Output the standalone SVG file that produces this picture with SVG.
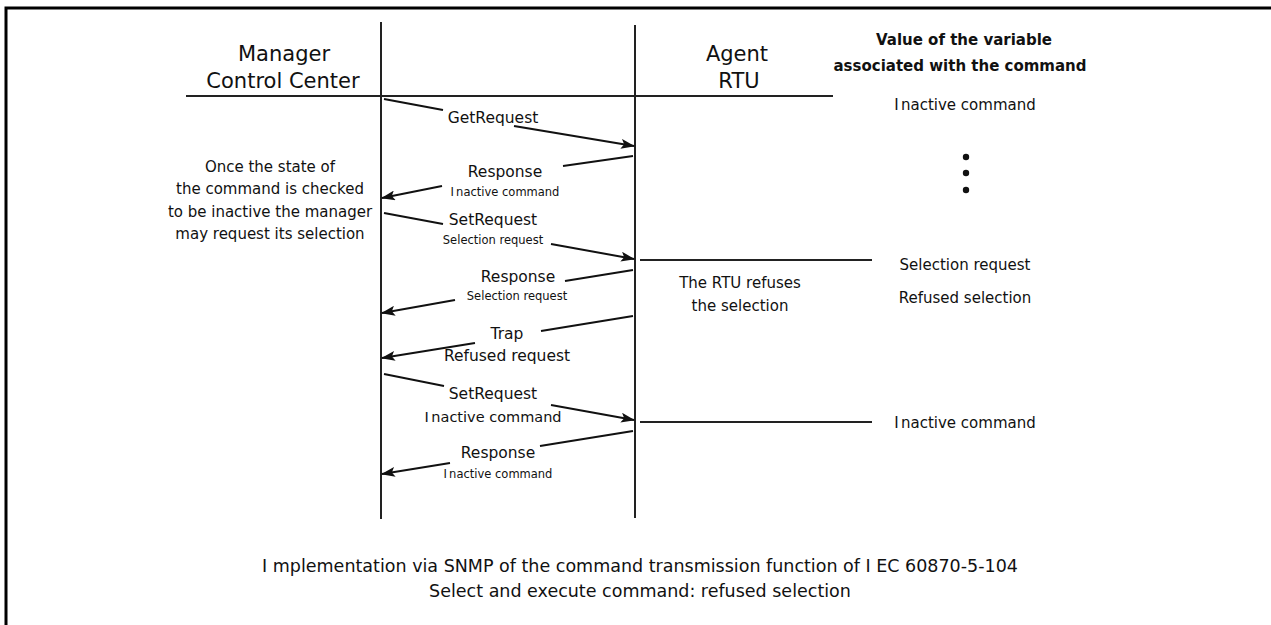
<svg xmlns="http://www.w3.org/2000/svg" width="1271" height="625" viewBox="0 0 1271 625">
<style>
text{font-family:"DejaVu Sans","Liberation Sans",Arial,sans-serif;fill:#111;text-anchor:middle}
.hd{font-size:21px}
.lb{font-size:15.5px}
.lb2{font-size:14.5px}
.sm{font-size:11.5px}
.nt{font-size:15px}
.bd{font-size:15px;font-weight:bold}
.ft{font-size:17.5px}
.ln{stroke:#222;stroke-width:2;fill:none}
.msg{stroke:#111;stroke-width:2;fill:none}
</style>
<defs>
<marker id="ah" markerUnits="userSpaceOnUse" markerWidth="14" markerHeight="10" refX="13" refY="5" orient="auto">
<path d="M0,0 L14,5 L0,10 L3,5 Z" fill="#111"/>
</marker>
</defs>
<rect width="1271" height="625" fill="#fff"/>
<path d="M6,625 V8 H1271" stroke="#000" stroke-width="3" fill="none"/>

<g id="lifelines">
<line class="ln" x1="381" y1="22" x2="381" y2="519"/>
<line class="ln" x1="635" y1="25" x2="635" y2="518"/>
<line class="ln" x1="186" y1="96" x2="833" y2="96" stroke-width="2.5"/>
</g>

<g id="manager"><text class="hd" x="284" y="61">Manager</text><text class="hd" x="283" y="88">Control Center</text></g>
<g id="agent"><text class="hd" x="737" y="61">Agent</text><text class="hd" x="739" y="88">RTU</text></g>
<g id="value-header"><text class="bd" x="964" y="45">Value of the variable</text><text class="bd" x="960" y="71">associated with the command</text></g>

<g id="connectors">
<line class="msg" x1="384" y1="99" x2="443" y2="110"/>
<line class="msg" x1="514" y1="126" x2="634" y2="146" marker-end="url(#ah)"/>
<line class="msg" x1="633" y1="156" x2="563" y2="166"/>
<line class="msg" x1="442" y1="186" x2="382" y2="198" marker-end="url(#ah)"/>
<line class="msg" x1="384" y1="213" x2="443" y2="224"/>
<line class="msg" x1="551" y1="244" x2="634" y2="259" marker-end="url(#ah)"/>
<line class="msg" x1="633" y1="270" x2="565" y2="281"/>
<line class="msg" x1="455" y1="300" x2="382" y2="313" marker-end="url(#ah)"/>
<line class="msg" x1="633" y1="316" x2="541" y2="331"/>
<line class="msg" x1="475" y1="343" x2="382" y2="358" marker-end="url(#ah)"/>
<line class="msg" x1="384" y1="374" x2="444" y2="386"/>
<line class="msg" x1="551" y1="405" x2="634" y2="420" marker-end="url(#ah)"/>
<line class="msg" x1="633" y1="431" x2="540" y2="446"/>
<line class="msg" x1="450" y1="463" x2="382" y2="474" marker-end="url(#ah)"/>
<line class="ln" x1="640" y1="260" x2="872" y2="260"/>
<line class="ln" x1="640" y1="422" x2="872" y2="422"/>
</g>

<g id="msg-labels">
<text class="lb" x="493" y="123">GetRequest</text>
<text class="lb" x="505" y="177">Response</text>
<text class="sm" x="505" y="196">I<tspan dx="-1.5"> nactive command</tspan></text>
<text class="lb" x="493" y="225">SetRequest</text>
<text class="sm" x="493" y="244">Selection request</text>
<text class="lb" x="518" y="282">Response</text>
<text class="sm" x="517" y="300">Selection request</text>
<text class="lb" x="507" y="339">Trap</text>
<text class="lb" x="507" y="361">Refused request</text>
<text class="lb" x="493" y="399">SetRequest</text>
<text class="lb2" x="493" y="422">I<tspan dx="-2"> nactive command</tspan></text>
<text class="lb" x="498" y="458">Response</text>
<text class="sm" x="498" y="478">I<tspan dx="-1.5"> nactive command</tspan></text>
</g>

<g id="note-manager">
<text class="nt" x="270" y="172">Once the state of</text>
<text class="nt" x="270" y="194">the command is checked</text>
<text class="nt" x="270" y="217">to be inactive the manager</text>
<text class="nt" x="270" y="239">may request its selection</text>
</g>
<g id="note-rtu">
<text class="nt" x="740" y="288">The RTU refuses</text>
<text class="nt" x="740" y="311">the selection</text>
</g>

<g id="values">
<text class="nt" x="965" y="110">I<tspan dx="-2.5"> nactive command</tspan></text>
<circle cx="966" cy="157" r="3.2" fill="#111"/>
<circle cx="966" cy="173" r="3.2" fill="#111"/>
<circle cx="966" cy="190" r="3.2" fill="#111"/>
<text class="nt" x="965" y="270">Selection request</text>
<text class="nt" x="965" y="303">Refused selection</text>
<text class="nt" x="965" y="428">I<tspan dx="-2.5"> nactive command</tspan></text>
</g>

<g id="caption">
<text class="ft" x="640" y="572">I mplementation via SNMP of the command transmission function of I EC 60870-5-104</text>
<text class="ft" x="640" y="597">Select and execute command: refused selection</text>
</g>
</svg>
